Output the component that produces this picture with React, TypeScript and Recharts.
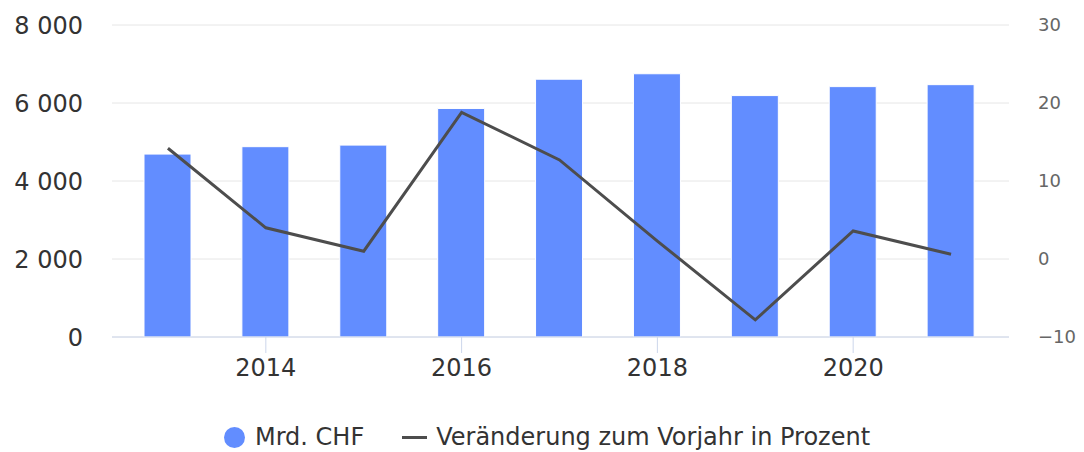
import React from 'react';
import { ComposedChart, Bar, Line, XAxis, YAxis, CartesianGrid, Legend } from 'recharts';

const years = ['2013', '2014', '2015', '2016', '2017', '2018', '2019', '2020', '2021'];
const mrdChf = [4690, 4880, 4920, 5860, 6610, 6750, 6190, 6420, 6470];
const changePct = [14.2, 4.0, 1.0, 18.8, 12.7, 2.3, -7.8, 3.6, 0.6];
const labeledYears = ['2014', '2016', '2018', '2020'];
const leftTicks = [0, 2000, 4000, 6000, 8000];
const rightTicks = [-10, 0, 10, 20, 30];
const seriesNames = ['Mrd. CHF', 'Veränderung zum Vorjahr in Prozent'];

const BAR = '#628dff';
const LINE = '#4d4d4d';
const FONT = '"DejaVu Sans", sans-serif';

const data = years.map((y, i) => ({ year: y, mrd: mrdChf[i], pct: changePct[i] }));

const fmtThousands = (v: number) => String(v).replace(/\B(?=(\d{3})+(?!\d))/g, ' ');
const fmtPct = (v: number) => (v < 0 ? '\u2212' + Math.abs(v) : String(v));

const XTick = (props: any) => {
  const { x, y, payload } = props;
  if (!labeledYears.includes(payload.value)) return <g />;
  return (
    <g>
      <line x1={x} x2={x} y1={y - 22} y2={y - 6} stroke="#ccd6eb" strokeWidth={1} />
      <text x={x} y={y} dy="0.71em" textAnchor="middle" fill="#333333" fontSize={24} fontFamily={FONT}>
        {payload.value}
      </text>
    </g>
  );
};

const LegendContent = () => (
  <div
    style={{
      display: 'flex',
      justifyContent: 'center',
      alignItems: 'center',
      height: 30,
      paddingLeft: 10,
      fontFamily: FONT,
      fontSize: 24,
      color: '#333333',
    }}
  >
    <span style={{ width: 21, height: 21, borderRadius: '50%', background: BAR, display: 'inline-block', marginRight: 10 }} />
    <span>{seriesNames[0]}</span>
    <span style={{ width: 25, height: 3, background: LINE, display: 'inline-block', margin: '0 9px 0 38px' }} />
    <span>{seriesNames[1]}</span>
  </div>
);

export default function App() {
  return (
    <div style={{ position: 'absolute', left: 0, top: 0, width: 1084, height: 452, background: '#fff' }}>
      <ComposedChart width={1084} height={452} data={data} margin={{ top: 25, right: 0, left: 0, bottom: 35 }} barCategoryGap={0}>
        <CartesianGrid yAxisId="left" vertical={false} stroke="#e6e6e6" />
        <XAxis
          dataKey="year"
          height={50}
          padding={{ left: 7, right: 9 }}
          tickSize={0}
          tickMargin={22}
          tickLine={false}
          axisLine={{ stroke: '#ccd6eb', strokeWidth: 1 }}
          tick={<XTick />}
          interval={0}
        />
        <YAxis
          yAxisId="left"
          width={112}
          domain={[0, 8000]}
          ticks={leftTicks}
          tickFormatter={fmtThousands}
          tickSize={0}
          tickMargin={29}
          tickLine={false}
          axisLine={false}
          tick={{ fill: '#333333', fontSize: 24, fontFamily: FONT }}
        />
        <YAxis
          yAxisId="right"
          orientation="right"
          width={75}
          domain={[-10, 30]}
          ticks={rightTicks}
          tickFormatter={fmtPct}
          tickSize={0}
          tickMargin={29}
          tickLine={false}
          axisLine={false}
          tick={{ fill: '#666666', fontSize: 18, fontFamily: FONT }}
        />
        <Legend verticalAlign="bottom" content={<LegendContent />} wrapperStyle={{ bottom: 0, height: 30 }} />
        <Bar yAxisId="left" dataKey="mrd" name={seriesNames[0]} fill={BAR} stroke="#ffffff" strokeWidth={1} barSize={47} isAnimationActive={false} />
        <Line yAxisId="right" dataKey="pct" name={seriesNames[1]} type="linear" stroke={LINE} strokeWidth={3} dot={false} activeDot={false} isAnimationActive={false} />
      </ComposedChart>
    </div>
  );
}
